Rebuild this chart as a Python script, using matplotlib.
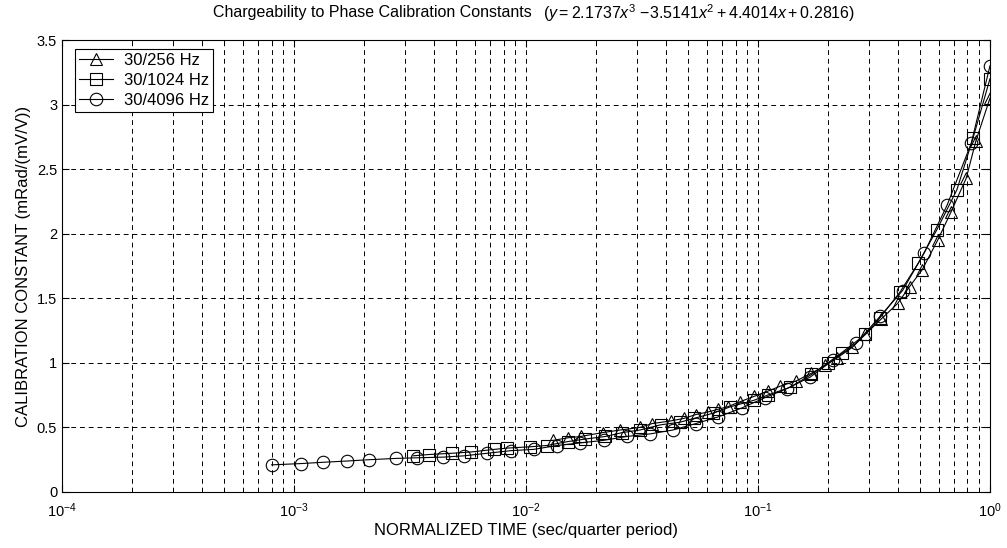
import matplotlib
matplotlib.use("Agg")
import matplotlib.pyplot as plt
from matplotlib.ticker import LogLocator, FuncFormatter, NullFormatter

plt.rcParams['font.family'] = ['Liberation Sans', 'DejaVu Sans']
plt.rcParams['mathtext.fontset'] = 'custom'
plt.rcParams['mathtext.rm'] = 'Liberation Sans'
plt.rcParams['mathtext.it'] = 'Liberation Sans:italic'

# 30/256 Hz  (triangles)
x_tri = [0.0131, 0.0152, 0.0172, 0.0214, 0.0255, 0.031, 0.035, 0.042, 0.048, 0.054,
         0.061, 0.067, 0.074, 0.084, 0.096, 0.11, 0.125, 0.146, 0.17, 0.195,
         0.22, 0.255, 0.29, 0.34, 0.40, 0.45, 0.51, 0.595, 0.68, 0.79, 0.87, 1.0]
y_tri = [0.40, 0.42, 0.43, 0.46, 0.48, 0.50, 0.53, 0.55, 0.57, 0.60,
         0.62, 0.64, 0.66, 0.70, 0.74, 0.78, 0.82, 0.86, 0.92, 0.98,
         1.04, 1.12, 1.22, 1.34, 1.46, 1.59, 1.72, 1.95, 2.17, 2.43, 2.72, 3.05]

# 30/1024 Hz  (squares)
x_sq = [0.00326, 0.0038, 0.0048, 0.0058, 0.0073, 0.0083, 0.0104, 0.0123, 0.0151, 0.018,
        0.022, 0.026, 0.031, 0.038, 0.046, 0.053, 0.064, 0.076, 0.096, 0.11,
        0.137, 0.17, 0.20, 0.23, 0.29, 0.336, 0.41, 0.49, 0.59, 0.72, 0.845, 1.0]
y_sq = [0.28, 0.29, 0.30, 0.31, 0.33, 0.34, 0.35, 0.36, 0.39, 0.41,
        0.43, 0.46, 0.48, 0.52, 0.54, 0.57, 0.61, 0.66, 0.71, 0.75,
        0.81, 0.91, 1.00, 1.08, 1.22, 1.35, 1.55, 1.77, 2.03, 2.34, 2.74, 3.20]

# 30/4096 Hz  (circles)
x_ci = [0.0008, 0.00107, 0.00133, 0.0017, 0.0021, 0.00275, 0.0034, 0.0044, 0.0054, 0.0068,
        0.0086, 0.0108, 0.0136, 0.0171, 0.0216, 0.0272, 0.0343, 0.043, 0.054, 0.067,
        0.085, 0.107, 0.133, 0.168, 0.21, 0.264, 0.336, 0.42, 0.52, 0.653, 0.83, 1.0]
y_ci = [0.21, 0.22, 0.23, 0.24, 0.25, 0.26, 0.265, 0.27, 0.28, 0.30,
        0.32, 0.33, 0.36, 0.38, 0.40, 0.43, 0.45, 0.48, 0.53, 0.58,
        0.65, 0.73, 0.80, 0.89, 1.02, 1.15, 1.36, 1.56, 1.85, 2.22, 2.70, 3.30]

fig = plt.figure(figsize=(10.07, 5.48), dpi=100)
ax = fig.add_axes([0.0616, 0.1022, 0.9215, 0.8248])

ax.plot(x_tri, y_tri, '-^', color='black', lw=0.8, ms=9, mfc='none', mew=0.8, label='30/256 Hz')
ax.plot(x_sq, y_sq, '-s', color='black', lw=0.8, ms=8, mfc='none', mew=0.8, label='30/1024 Hz')
ax.plot(x_ci, y_ci, '-o', color='black', lw=0.8, ms=9, mfc='none', mew=0.8, label='30/4096 Hz')

ax.set_xscale('log')
ax.set_xlim(1e-4, 1)
ax.set_ylim(0, 3.5)
ax.set_yticks([0, 0.5, 1, 1.5, 2, 2.5, 3, 3.5])
ax.yaxis.set_major_formatter(FuncFormatter(lambda v, p: '%g' % v))
ax.xaxis.set_major_locator(LogLocator(base=10, numticks=10))
ax.xaxis.set_minor_locator(LogLocator(base=10, subs=range(2, 10), numticks=10))
ax.xaxis.set_minor_formatter(NullFormatter())

ax.grid(True, which='major', color='black', ls=(0, (5, 4)), lw=0.7)
ax.grid(True, which='minor', axis='x', color='black', ls=(0, (5, 4)), lw=0.7)

ax.tick_params(which='both', direction='in', top=True, right=True, labelsize=10.5)
ax.tick_params(which='major', length=5)
ax.tick_params(which='minor', length=3)
ax.tick_params(axis='x', which='major', pad=7)
for s in ax.spines.values():
    s.set_linewidth(0.8)

ax.set_xlabel('NORMALIZED TIME (sec/quarter period)', fontsize=12, labelpad=2)
ax.set_ylabel('CALIBRATION CONSTANT (mRad/(mV/V))', fontsize=12, labelpad=4)

# title in two parts, the equation in italic, centred over the axes together
t1 = fig.text(0, 1 - 13 / 548, 'Chargeability to Phase Calibration Constants',
              fontsize=11.5, ha='left', va='center')
t2 = fig.text(0, 1 - 13 / 548,
              r'$\mathit{(y = 2.1737x^{3}\ {-}3.5141x^{2} + 4.4014x + 0.2816)}$',
              fontsize=11.5, ha='left', va='center')
r = fig.canvas.get_renderer()
w1 = t1.get_window_extent(r).width
w2 = t2.get_window_extent(r).width
gap = 12
x0 = 534 - (w1 + gap + w2) / 2
t1.set_x(x0 / 1007)
t2.set_x((x0 + w1 + gap) / 1007)

leg = ax.legend(loc='upper left', bbox_to_anchor=(13 / 928, 1 - 9 / 452), borderaxespad=0,
                fontsize=12, fancybox=False, edgecolor='black', framealpha=1,
                handlelength=2.0, handletextpad=0.7, borderpad=0.25, labelspacing=0.3)
leg.get_frame().set_linewidth(0.8)

fig.savefig('out.png', dpi=100)
